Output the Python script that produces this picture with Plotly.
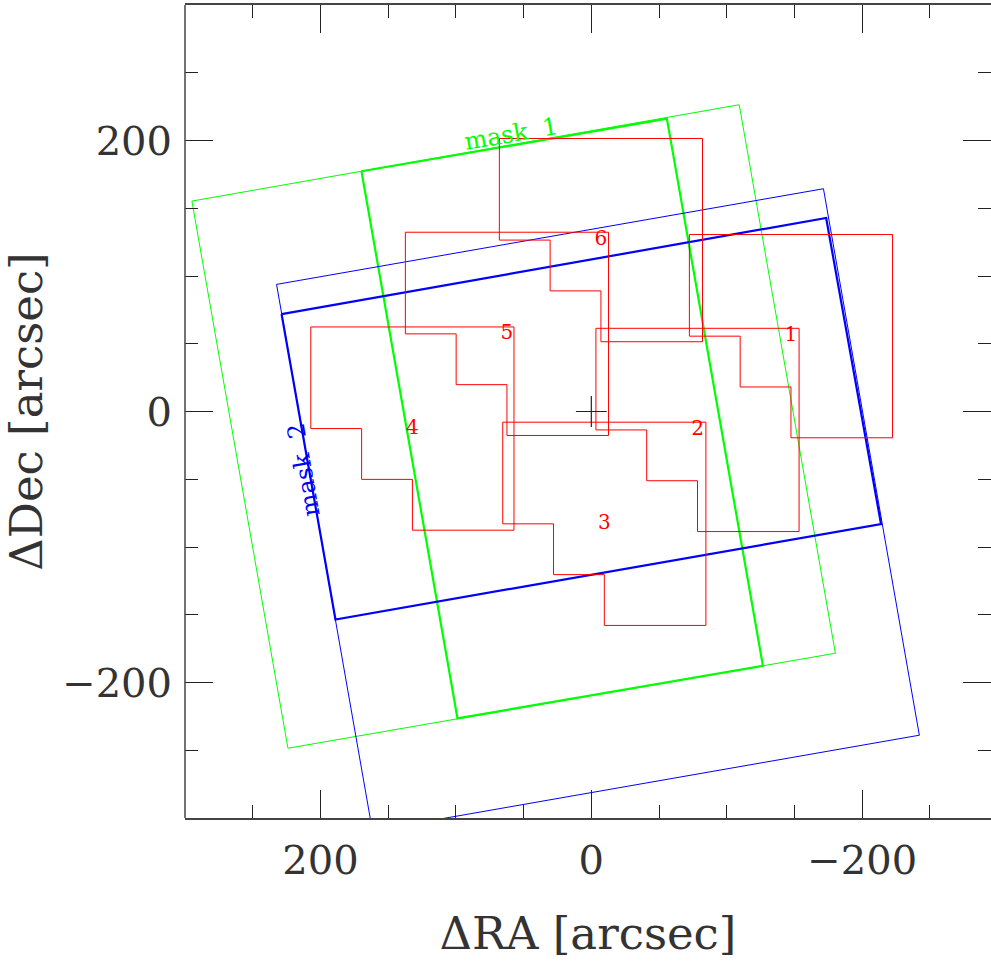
import plotly.graph_objects as go

# Pointing centres of the six fields (arcsec offsets)
field_labels = ["1", "2", "3", "4", "5", "6"]
field_dra = [-147.4, -78.4, -9.6, 132.1, 62.3, -7.1]
field_ddec = [55.6, -13.6, -82.9, -12.6, 57.3, 126.5]

# Detector footprint outline relative to each pointing centre (arcsec)
foot_dra = [75, -75, -75, 0, 0, 37.5, 37.5, 75, 75]
foot_ddec = [75, 75, -75, -75, -37.5, -37.5, 0, 0, 75]

# Mask outlines: corners of the full field and of the slit region
mask1_field_ra = [294.9, -109.2, -180.2, 224.0]
mask1_field_dec = [155.3, 226.4, -178.4, -248.5]
mask1_slit_ra = [169.7, -55.8, -126.7, 98.8]
mask1_slit_dec = [177.3, 216.1, -187.7, -226.5]

mask2_field_ra = [232.4, -171.4, -242.2, 161.6]
mask2_field_dec = [93.8, 164.4, -238.9, -309.5]
mask2_slit_ra = [228.7, -173.4, -213.9, 188.9]
mask2_slit_dec = [71.9, 142.8, -83.1, -153.5]

x_ticks = [200, 0, -200]
y_ticks = [-200, 0, 200]

GREEN = "#00ff00"
BLUE = "#0000ff"
RED = "#ff0000"
INK = "#333333"
FONT = "DejaVu Serif"

fig = go.Figure()


def closed(xs, ys):
    return list(xs) + [xs[0]], list(ys) + [ys[0]]


# masks
for xs, ys, col, w in [
    (mask1_field_ra, mask1_field_dec, GREEN, 1),
    (mask1_slit_ra, mask1_slit_dec, GREEN, 2.2),
    (mask2_field_ra, mask2_field_dec, BLUE, 1),
    (mask2_slit_ra, mask2_slit_dec, BLUE, 2.2),
]:
    cx, cy = closed(xs, ys)
    fig.add_trace(go.Scatter(x=cx, y=cy, mode="lines",
                             line=dict(color=col, width=w),
                             hoverinfo="skip", showlegend=False))

# field footprints
for cra, cdec in zip(field_dra, field_ddec):
    fig.add_trace(go.Scatter(
        x=[cra + d for d in foot_dra],
        y=[cdec + d for d in foot_ddec],
        mode="lines", line=dict(color=RED, width=1),
        hoverinfo="skip", showlegend=False))

# field numbers
fig.add_trace(go.Scatter(
    x=field_dra, y=field_ddec, mode="text", text=field_labels,
    textfont=dict(family=FONT, size=20, color=RED),
    textposition="middle center", hoverinfo="skip", showlegend=False))

# field centre
fig.add_trace(go.Scatter(
    x=[0], y=[0], mode="markers",
    marker=dict(symbol="cross-thin", size=22,
                line=dict(color="#222222", width=1.2)),
    hoverinfo="skip", showlegend=False))

# mask names
fig.add_annotation(x=59.0, y=204.5, text="mask  1", showarrow=False,
                   textangle=-10, font=dict(family=FONT, size=24, color=GREEN))
fig.add_annotation(x=212.2, y=-43.3, text="mask  2", showarrow=False,
                   textangle=-100, font=dict(family=FONT, size=24, color=BLUE))

axis_common = dict(
    ticks="inside", ticklen=28, tickwidth=1, tickcolor="#222222",
    showgrid=False, zeroline=False,
    tickfont=dict(family=FONT, size=40, color=INK),
    minor=dict(ticks="inside", ticklen=13, dtick=50, tickwidth=1,
               tickcolor="#222222", showgrid=False),
)

fig.update_xaxes(
    range=[300, -295.1], tickmode="array", tickvals=x_ticks,
    showline=True, linecolor="#444444", linewidth=1.5, mirror="allticks",
    ticklabelstandoff=6,
    title=dict(text="ΔRA [arcsec]", font=dict(family=FONT, size=45, color=INK),
               standoff=36),
    **axis_common)
fig.update_yaxes(
    range=[-300, 300], tickmode="array", tickvals=y_ticks,
    showline=False, mirror="allticks",
    ticklabelstandoff=12,
    title=dict(text="ΔDec [arcsec]", font=dict(family=FONT, size=45, color=INK),
               standoff=14),
    **axis_common)

# left frame edge
fig.add_shape(type="line", xref="paper", yref="paper", x0=0, x1=0, y0=0, y1=1,
              line=dict(color="#444444", width=1.5))

fig.update_layout(
    width=991, height=965,
    margin=dict(l=185, r=0, t=5, b=147),
    plot_bgcolor="white", paper_bgcolor="white",
)

fig.write_html("out.html")
